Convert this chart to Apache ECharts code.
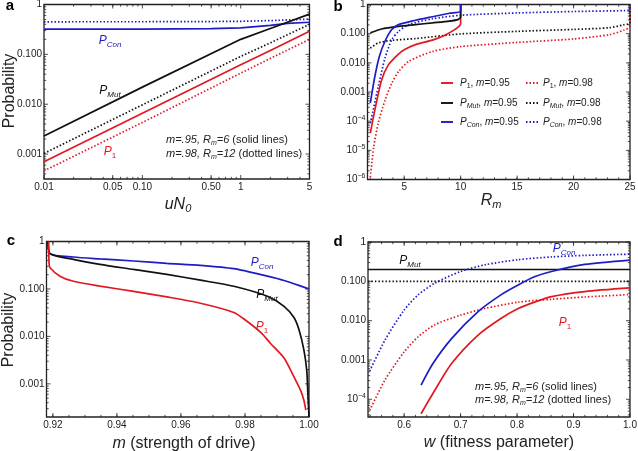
<!DOCTYPE html>
<html>
<head>
<meta charset="utf-8">
<script src="https://cdn.jsdelivr.net/npm/echarts@6/dist/echarts.min.js"></script>
<style>
  html, body { margin: 0; padding: 0; background: #fff; }
  #main { width: 638px; height: 451px; }
</style>
</head>
<body>
<div id="main"></div>
<script>
const RED = '#e3171e', BLUE = '#1d1dc6', BLACK = '#111111', INK = '#222222';
const FONT = '"Liberation Sans", Arial, sans-serif';

// ---- panel a : probability vs uN0 (log-log) ----
const aX          = [0.01, 0.1, 1, 2, 5];
const aMutSolid   = [0.0023, 0.022, 0.2, 0.33, 0.64];
const aMutDotted  = [0.00103, 0.0097, 0.091, 0.17, 0.40];
const aP1Solid    = [0.0007, 0.0066, 0.062, 0.12, 0.29];
const aP1Dotted   = [0.00046, 0.0043, 0.042, 0.083, 0.20];
const aConX       = [0.01, 0.1, 0.5, 1, 2, 3, 5];
const aConSolid   = [0.32, 0.322, 0.328, 0.34, 0.38, 0.42, 0.44];
const aConDotted  = [0.45, 0.451, 0.455, 0.46, 0.475, 0.49, 0.51];

// ---- panel b : probability vs Rm ----
const bP1SolidX   = [2, 2.4, 3.0, 3.6, 4.5, 5, 6, 7.5, 8.5, 9.5, 10, 10];
const bP1Solid    = [3.9e-5, 2.4e-4, 0.0026, 0.0085, 0.02, 0.028, 0.042, 0.06, 0.085, 0.14, 0.22, 1];
const bMutSolidX  = [2, 3, 4.5, 6, 7.5, 9, 9.8, 10, 10];
const bMutSolid   = [0.107, 0.145, 0.178, 0.204, 0.234, 0.269, 0.31, 0.38, 1];
const bConSolidX  = [2, 2.4, 2.8, 3.3, 3.9, 4.5, 6, 7.5, 9, 10, 10];
const bConSolid   = [4.2e-4, 0.0034, 0.0166, 0.055, 0.138, 0.204, 0.288, 0.38, 0.5, 0.589, 1];
const bP1DottedX  = [2, 2.3, 2.7, 3.3, 3.9, 4.5, 5.4, 7.5, 10, 15, 20, 23.2, 24.4, 25, 25];
const bP1Dotted   = [1.2e-6, 1.3e-5, 8.5e-5, 5.2e-4, 0.002, 0.005, 0.0112, 0.0245, 0.036, 0.05, 0.066, 0.093, 0.13, 0.178, 1];
const bMutDottedX = [2, 2.7, 3.9, 6, 10, 15, 20, 23.2, 24.4, 25, 25];
const bMutDotted  = [0.032, 0.048, 0.059, 0.068, 0.098, 0.12, 0.14, 0.16, 0.2, 0.234, 1];
const bConDottedX = [2, 2.7, 3.3, 3.9, 4.5, 5.4, 7.5, 10, 15, 20, 24.5, 25, 25];
const bConDotted  = [8.5e-5, 0.0015, 0.0145, 0.062, 0.12, 0.204, 0.324, 0.427, 0.513, 0.575, 0.617, 0.65, 1];

// ---- panel c : probability vs m ----
const cConX = [0.9185, 0.9191, 0.9264, 0.9347, 0.9452, 0.9556, 0.9661, 0.9765, 0.987, 0.9922, 1.0];
const cCon  = [1, 0.556, 0.471, 0.43, 0.388, 0.346, 0.314, 0.267, 0.186, 0.151, 0.1];
const cMutX = [0.9185, 0.9191, 0.9264, 0.9347, 0.9452, 0.9556, 0.9661, 0.9765, 0.987, 0.9922, 0.9953, 0.9969, 0.9984, 0.9993, 0.9997, 1.0];
const cMut  = [1, 0.556, 0.42, 0.33, 0.258, 0.202, 0.153, 0.114, 0.07, 0.043, 0.025, 0.0137, 0.0052, 0.0019, 0.00053, 0.0002];
const cP1X  = [0.9187, 0.9188, 0.9191, 0.9222, 0.9264, 0.9347, 0.9452, 0.9556, 0.9661, 0.9765, 0.98, 0.985, 0.988, 0.9922, 0.9953, 0.9974, 0.9984, 0.999];
const cP1   = [1, 0.35, 0.28, 0.186, 0.145, 0.115, 0.089, 0.068, 0.05, 0.032, 0.0224, 0.012, 0.0071, 0.0035, 0.0014, 0.00072, 0.00045, 0.00028];

// ---- panel d : probability vs w ----
const dMutX       = [0.536, 1.0];
const dMutSolid   = [0.2, 0.2];
const dMutDotted  = [0.1, 0.1];
const dDottedX    = [0.539, 0.566, 0.6, 0.625, 0.654, 0.7, 0.743, 0.802, 0.861, 0.92, 1.0];
const dConDotted  = [5.2e-4, 0.0032, 0.0186, 0.0457, 0.089, 0.178, 0.263, 0.355, 0.417, 0.457, 0.49];
const dP1Dotted   = [5.2e-5, 3.1e-4, 0.0016, 0.0039, 0.0078, 0.0138, 0.0204, 0.0295, 0.035, 0.04, 0.046];
const dSolidX     = [0.63, 0.651, 0.684, 0.731, 0.772, 0.802, 0.832, 0.861, 0.92, 1.0];
const dConSolid   = [2.3e-4, 8.1e-4, 0.0035, 0.017, 0.046, 0.081, 0.132, 0.178, 0.269, 0.347];
const dP1Solid    = [4.3e-5, 1.4e-4, 8.1e-4, 0.0043, 0.0115, 0.0204, 0.03, 0.041, 0.055, 0.068];

// ---- tick values and labels ----
const aXTicks = [0.01, 0.05, 0.1, 0.5, 1, 5];
const aXLabels = ['0.01', '0.05', '0.10', '0.50', '1', '5'];
const yTicks3 = [0.001, 0.01, 0.1, 1];
const yLabels3 = ['0.001', '0.010', '0.100', '1'];
const bXTicks = [5, 10, 15, 20, 25];
const bXLabels = ['5', '10', '15', '20', '25'];
const bYTicks = [1e-6, 1e-5, 1e-4, 0.001, 0.01, 0.1, 1];
const bYLabels = ['{n|10}{e|−6}', '{n|10}{e|−5}', '{n|10}{e|−4}', '0.001', '0.010', '0.100', '1'];
const cXTicks = [0.92, 0.94, 0.96, 0.98, 1.0];
const cXLabels = ['0.92', '0.94', '0.96', '0.98', '1.00'];
const dXTicks = [0.6, 0.7, 0.8, 0.9, 1.0];
const dXLabels = ['0.6', '0.7', '0.8', '0.9', '1.0'];
const dYTicks = [1e-4, 0.001, 0.01, 0.1, 1];
const dYLabels = ['{n|10}{e|−4}', '0.001', '0.010', '0.100', '1'];

function logMinor(lo, hi) {
  const out = [];
  for (let e = Math.floor(Math.log10(lo)); e <= 0; e++) {
    for (let k = 2; k <= 9; k++) {
      const v = k * Math.pow(10, e);
      if (v > lo && v < hi) out.push(v);
    }
  }
  return out;
}
function linMinor(lo, hi, step) {
  const out = [];
  for (let v = Math.ceil(lo / step) * step; v < hi; v += step) out.push(+v.toFixed(6));
  return out;
}

const panels = [
  { grid: { left: 44, top: 4.5, width: 265.5, height: 174.5 }, xType: 'log', xMin: 0.01, xMax: 5, yMin: 0.000316, yMax: 1,
    xTicks: aXTicks, xLabels: aXLabels, yTicks: yTicks3, yLabels: yLabels3,
    xMinor: logMinor(0.01, 5), yMinor: logMinor(0.000316, 1) },
  { grid: { left: 367.5, top: 4.5, width: 262.5, height: 175 }, xType: 'value', xMin: 1.75, xMax: 25, yMin: 1e-6, yMax: 1,
    xTicks: bXTicks, xLabels: bXLabels, yTicks: bYTicks, yLabels: bYLabels,
    xMinor: linMinor(1.75, 25, 1), yMinor: logMinor(1e-6, 1) },
  { grid: { left: 46.5, top: 241.5, width: 262.5, height: 175.5 }, xType: 'value', xMin: 0.918, xMax: 1.0, yMin: 0.0002, yMax: 1,
    xTicks: cXTicks, xLabels: cXLabels, yTicks: yTicks3, yLabels: yLabels3,
    xMinor: linMinor(0.918, 1.0, 0.005), yMinor: logMinor(0.0002, 1) },
  { grid: { left: 368, top: 242, width: 262, height: 175 }, xType: 'value', xMin: 0.536, xMax: 1.0, yMin: 3.55e-5, yMax: 1,
    xTicks: dXTicks, xLabels: dXLabels, yTicks: dYTicks, yLabels: dYLabels,
    xMinor: linMinor(0.536, 1.0, 0.02), yMinor: logMinor(3.55e-5, 1) }
];

function line(i, xs, ys, color, dotted) {
  return {
    type: 'line', xAxisIndex: i, yAxisIndex: i,
    data: xs.map((x, k) => [x, ys[k]]),
    symbol: 'none', showSymbol: false, smooth: i === 0 ? false : 0.25,
    silent: true, animation: false,
    lineStyle: { color: color, width: 1.7, type: dotted ? [1.5, 2] : 'solid' }
  };
}

const option = {
  backgroundColor: '#fff',
  animation: false,
  grid: panels.map(p => Object.assign({ show: true, borderColor: INK, borderWidth: 1.3, backgroundColor: 'transparent' }, p.grid)),
  xAxis: panels.map((p, i) => ({
    type: p.xType, gridIndex: i, min: p.xMin, max: p.xMax, logBase: 10,
    axisLine: { show: false }, axisTick: { show: false }, axisLabel: { show: false }, splitLine: { show: false }
  })),
  yAxis: panels.map((p, i) => ({
    type: 'log', gridIndex: i, min: p.yMin, max: p.yMax, logBase: 10,
    axisLine: { show: false }, axisTick: { show: false }, axisLabel: { show: false }, splitLine: { show: false }
  })),
  series: [
    line(0, aConX, aConSolid, BLUE, false), line(0, aConX, aConDotted, BLUE, true),
    line(0, aX, aMutSolid, BLACK, false), line(0, aX, aMutDotted, BLACK, true),
    line(0, aX, aP1Solid, RED, false), line(0, aX, aP1Dotted, RED, true),

    line(1, bP1DottedX, bP1Dotted, RED, true), line(1, bMutDottedX, bMutDotted, BLACK, true),
    line(1, bConDottedX, bConDotted, BLUE, true),
    line(1, bP1SolidX, bP1Solid, RED, false), line(1, bMutSolidX, bMutSolid, BLACK, false),
    line(1, bConSolidX, bConSolid, BLUE, false),

    line(2, cConX, cCon, BLUE, false), line(2, cMutX, cMut, BLACK, false), line(2, cP1X, cP1, RED, false),

    line(3, dMutX, dMutSolid, BLACK, false), line(3, dMutX, dMutDotted, BLACK, true),
    line(3, dDottedX, dConDotted, BLUE, true), line(3, dDottedX, dP1Dotted, RED, true),
    line(3, dSolidX, dConSolid, BLUE, false), line(3, dSolidX, dP1Solid, RED, false)
  ]
};

const chart = echarts.init(document.getElementById('main'), null, { renderer: 'canvas' });
chart.setOption(option);

// ---- frame ticks, tick labels and annotations ----
const tickRich = {
  n: { fontSize: 10, fontFamily: FONT, fill: INK, lineHeight: 13 },
  e: { fontSize: 7, fontFamily: FONT, fill: INK, lineHeight: 6, verticalAlign: 'top' }
};
function seg(x1, y1, x2, y2) {
  return { type: 'line', silent: true, shape: { x1, y1, x2, y2 }, style: { stroke: INK, lineWidth: 0.8 } };
}
function txt(x, y, text, align, vAlign, extra) {
  return {
    type: 'text', x: x, y: y, silent: true,
    style: Object.assign({ text: text, textAlign: align, textVerticalAlign: vAlign, fontSize: 10, fontFamily: FONT, fill: INK, rich: tickRich }, extra || {})
  };
}
function sub(color, size) {
  const s = size || 12;
  return {
    p: { fontSize: s, fontStyle: 'italic', fontFamily: FONT, fill: color, lineHeight: s + 3 },
    r: { fontSize: s, fontFamily: FONT, fill: color, lineHeight: s + 3 },
    s: { fontSize: Math.round(s * 0.68), fontStyle: 'italic', fontFamily: FONT, fill: color, lineHeight: 8, verticalAlign: 'bottom' },
    u: { fontSize: Math.round(s * 0.68), fontFamily: FONT, fill: color, lineHeight: 8, verticalAlign: 'bottom' }
  };
}

const gfx = [];
panels.forEach((p, i) => {
  const g = p.grid;
  const L = g.left, T = g.top, R = g.left + g.width, B = g.top + g.height;
  const px = v => chart.convertToPixel({ xAxisIndex: i }, v);
  const py = v => chart.convertToPixel({ yAxisIndex: i }, v);
  p.xTicks.forEach((v, k) => {
    const x = px(v);
    gfx.push(seg(x, B, x, B - 4), seg(x, T, x, T + 4));
    gfx.push(txt(x, B + 3, p.xLabels[k], 'center', 'top'));
  });
  p.xMinor.forEach(v => {
    const x = px(v);
    gfx.push(seg(x, B, x, B - 2.2), seg(x, T, x, T + 2.2));
  });
  p.yTicks.forEach((v, k) => {
    const y = py(v);
    gfx.push(seg(L, y, L + 4, y), seg(R, y, R - 4, y));
    gfx.push(txt(L - 2, y, p.yLabels[k], 'right', 'middle'));
  });
  p.yMinor.forEach(v => {
    const y = py(v);
    gfx.push(seg(L, y, L + 2.2, y), seg(R, y, R - 2.2, y));
  });
});

const big = { fontSize: 16, fontFamily: FONT, fill: INK };
const titleRich = {
  i: { fontSize: 16, fontStyle: 'italic', fontFamily: FONT, fill: INK, lineHeight: 19 },
  t: { fontSize: 16, fontFamily: FONT, fill: INK, lineHeight: 19 },
  s: { fontSize: 11, fontStyle: 'italic', fontFamily: FONT, fill: INK, lineHeight: 10, verticalAlign: 'bottom' }
};
const letter = { fontSize: 15, fontWeight: 'bold', fontFamily: FONT, fill: '#000' };
gfx.push(
  txt(10, 6, 'a', 'center', 'middle', letter),
  txt(338, 7, 'b', 'center', 'middle', letter),
  txt(11, 241, 'c', 'center', 'middle', letter),
  txt(338, 242, 'd', 'center', 'middle', letter),

  Object.assign(txt(10, 91, 'Probability', 'center', 'middle', big), { rotation: Math.PI / 2 }),
  Object.assign(txt(9, 330, 'Probability', 'center', 'middle', big), { rotation: Math.PI / 2 }),
  txt(178, 205, '{i|uN}{s|0}', 'center', 'middle', { rich: titleRich }),
  txt(491, 201, '{i|R}{s|m}', 'center', 'middle', { rich: titleRich }),
  txt(184, 444, '{i|m}{t| (strength of drive)}', 'center', 'middle', { rich: titleRich }),
  txt(499, 443, '{i|w}{t| (fitness parameter)}', 'center', 'middle', { rich: titleRich }),

  // panel a curve labels
  txt(110, 41, '{p|P}{s|Con}', 'center', 'middle', { rich: sub(BLUE) }),
  txt(110, 91, '{p|P}{s|Mut}', 'center', 'middle', { rich: sub(BLACK) }),
  txt(110, 152, '{p|P}{u|1}', 'center', 'middle', { rich: sub(RED) }),
  txt(166, 140, '{p|m=.95, R}{s|m}{p|=6}{r| (solid lines)}', 'left', 'middle', { rich: sub(INK, 11) }),
  txt(166, 154, '{p|m=.98, R}{s|m}{p|=12}{r| (dotted lines)}', 'left', 'middle', { rich: sub(INK, 11) }),

  // panel c curve labels
  txt(262, 263, '{p|P}{s|Con}', 'center', 'middle', { rich: sub(BLUE) }),
  txt(267, 295, '{p|P}{s|Mut}', 'center', 'middle', { rich: sub(BLACK) }),
  txt(262, 327, '{p|P}{u|1}', 'center', 'middle', { rich: sub(RED) }),

  // panel d curve labels
  txt(410, 261, '{p|P}{s|Mut}', 'center', 'middle', { rich: sub(BLACK) }),
  txt(564, 249, '{p|P}{s|Con}', 'center', 'middle', { rich: sub(BLUE) }),
  txt(565, 323, '{p|P}{u|1}', 'center', 'middle', { rich: sub(RED) }),
  txt(475, 387, '{p|m=.95, R}{s|m}{p|=6}{r| (solid lines)}', 'left', 'middle', { rich: sub(INK, 11) }),
  txt(475, 400, '{p|m=.98, R}{s|m}{p|=12}{r| (dotted lines)}', 'left', 'middle', { rich: sub(INK, 11) })
);

// panel b legend
const legendRows = [
  { sub: '{u|1}', color: RED, y: 83 },
  { sub: '{s|Mut}', color: BLACK, y: 103 },
  { sub: '{s|Con}', color: BLUE, y: 122 }
];
const legendCols = [
  { x1: 441, x2: 453, tx: 460, m: '0.95', dotted: false },
  { x1: 526, x2: 539, tx: 543, m: '0.98', dotted: true }
];
legendCols.forEach(c => {
  legendRows.forEach(r => {
    gfx.push({ type: 'line', silent: true, shape: { x1: c.x1, y1: r.y, x2: c.x2, y2: r.y },
      style: { stroke: r.color, lineWidth: 1.9, lineDash: c.dotted ? [1.5, 2] : null } });
    gfx.push(txt(c.tx, r.y, '{p|P}' + r.sub + '{r|, }{p|m}{r|=' + c.m + '}', 'left', 'middle', { rich: sub(INK, 10) }));
  });
});

chart.setOption({ graphic: gfx });
</script>
</body>
</html>
